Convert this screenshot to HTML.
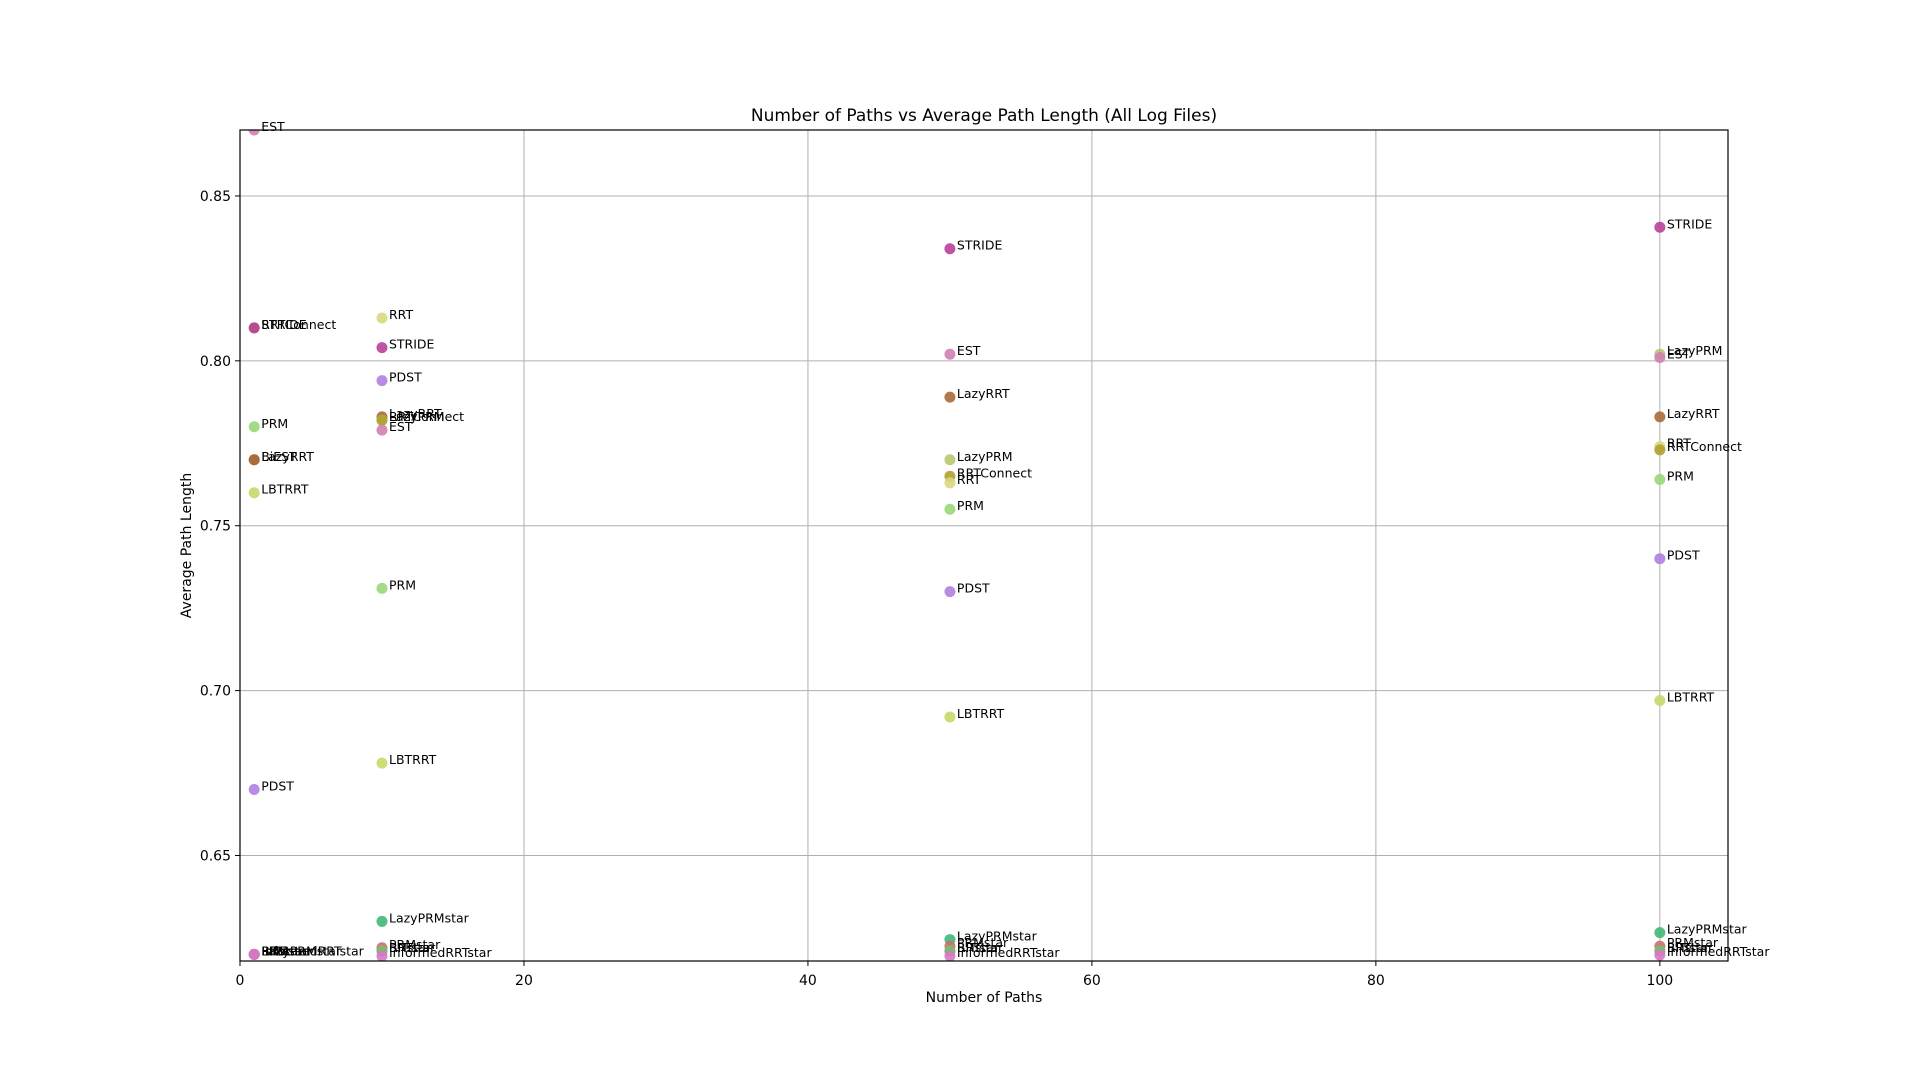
<!DOCTYPE html>
<html><head><meta charset="utf-8"><style>
body{margin:0;background:#fff;}
svg{display:block;font-family:"DejaVu Sans","Liberation Sans",sans-serif;}
</style></head><body>
<svg id="chart" width="1920" height="1080"></svg>
<script>
const labels=["EST","RRTConnect","STRIDE","PRM","LazyRRT","BiEST","LBTRRT","PDST","RRTstar","BITstar","LazyPRMstar","PRMstar","InformedRRTstar",
"RRT","STRIDE","PDST","LazyRRT","LazyPRM","RRTConnect","EST","PRM","LBTRRT","LazyPRMstar","PRMstar","RRTstar","BITstar","InformedRRTstar",
"STRIDE","EST","LazyRRT","LazyPRM","RRTConnect","RRT","PRM","PDST","LBTRRT","LazyPRMstar","PRMstar","RRTstar","BITstar","InformedRRTstar",
"STRIDE","LazyPRM","EST","LazyRRT","RRT","RRTConnect","PRM","PDST","LBTRRT","LazyPRMstar","PRMstar","RRTstar","BITstar","InformedRRTstar"];
const xVals=[1,1,1,1,1,1,1,1,1,1,1,1,1,
10,10,10,10,10,10,10,10,10,10,10,10,10,10,
50,50,50,50,50,50,50,50,50,50,50,50,50,50,
100,100,100,100,100,100,100,100,100,100,100,100,100,100];
const yVals=[0.870,0.810,0.810,0.780,0.770,0.770,0.760,0.670,0.620,0.620,0.620,0.620,0.620,
0.813,0.804,0.794,0.783,0.782,0.782,0.779,0.731,0.678,0.630,0.622,0.621,0.621,0.6195,
0.834,0.802,0.789,0.770,0.765,0.763,0.755,0.730,0.692,0.6245,0.6225,0.621,0.621,0.6195,
0.8405,0.802,0.801,0.783,0.774,0.773,0.764,0.740,0.697,0.6266,0.6225,0.621,0.621,0.6198];
const xTicks=[0,20,40,60,80,100];
const yTicks=[0.65,0.70,0.75,0.80,0.85];
const colorMap={EST:"#d080b0",STRIDE:"#b8409a",RRTConnect:"#b0a030",PRM:"#9ad878",LazyRRT:"#a86c3a",BiEST:"#a86c3a",LBTRRT:"#c8d868",PDST:"#b080e0",RRTstar:"#c8a040",BITstar:"#70c070",LazyPRMstar:"#40b878",PRMstar:"#c87070",InformedRRTstar:"#d878c8",RRT:"#d8d880",LazyPRM:"#b8c870"};
const L=240,R=1728,T=130,B=961,X0=0,X1=104.8,Y0=0.618,Y1=0.870;
const sx=v=>L+(v-X0)/(X1-X0)*(R-L);
const sy=v=>B-(v-Y0)/(Y1-Y0)*(B-T);
const svg=document.getElementById('chart');const NS="http://www.w3.org/2000/svg";
function mk(t,a,p){const e=document.createElementNS(NS,t);for(const k in a)e.setAttribute(k,a[k]);(p||svg).appendChild(e);return e;}
const grid=mk('g',{});


xTicks.forEach(t=>{const x=sx(t);
 mk('line',{x1:x,x2:x,y1:T,y2:B,stroke:"#b0b0b0","stroke-width":1},grid);
 mk('line',{x1:x,x2:x,y1:B,y2:B+5,stroke:"#000","stroke-width":1},grid);
 const tx=mk('text',{x:x,y:B+24,"text-anchor":"middle","font-size":14,fill:"#000"});tx.textContent=t;
 
 
});
yTicks.forEach(t=>{const y=sy(t);
 mk('line',{x1:L,x2:R,y1:y,y2:y,stroke:"#b0b0b0","stroke-width":1},grid);
 mk('line',{x1:L-5,x2:L,y1:y,y2:y,stroke:"#000","stroke-width":1},grid);
 const tx=mk('text',{x:L-9,y:y+5,"text-anchor":"end","font-size":14,fill:"#000"});tx.textContent=t.toFixed(2);
 
 
});
const clip=mk('clipPath',{id:'c'});mk('rect',{x:L,y:T,width:R-L,height:B-T},clip);
const pts=mk('g',{});


labels.forEach((lab,i)=>{
 const x=sx(xVals[i]),y=sy(yVals[i]);
 const c=mk('circle',{cx:x,cy:y,r:5.5,fill:colorMap[lab]||"#999","fill-opacity":0.9,"clip-path":"url(#c)"},pts);
 
 
 const t=mk('text',{x:x+7,y:y+1,"font-size":12.5,fill:"#000"},pts);t.textContent=lab;
 
 
});
const fr=mk('rect',{x:L,y:T,width:R-L,height:B-T,fill:"none",stroke:"#000","stroke-width":1.2});


const ti=mk('text',{x:(L+R)/2,y:121,"text-anchor":"middle","font-size":17,fill:"#000"});ti.textContent="Number of Paths vs Average Path Length (All Log Files)";


const xl=mk('text',{x:(L+R)/2,y:1002,"text-anchor":"middle","font-size":14,fill:"#000"});xl.textContent="Number of Paths";


const yl=mk('text',{x:0,y:0,"text-anchor":"middle","font-size":14,fill:"#000",transform:`translate(191,${(T+B)/2}) rotate(-90)`});yl.textContent="Average Path Length";


</script>
</body></html>
